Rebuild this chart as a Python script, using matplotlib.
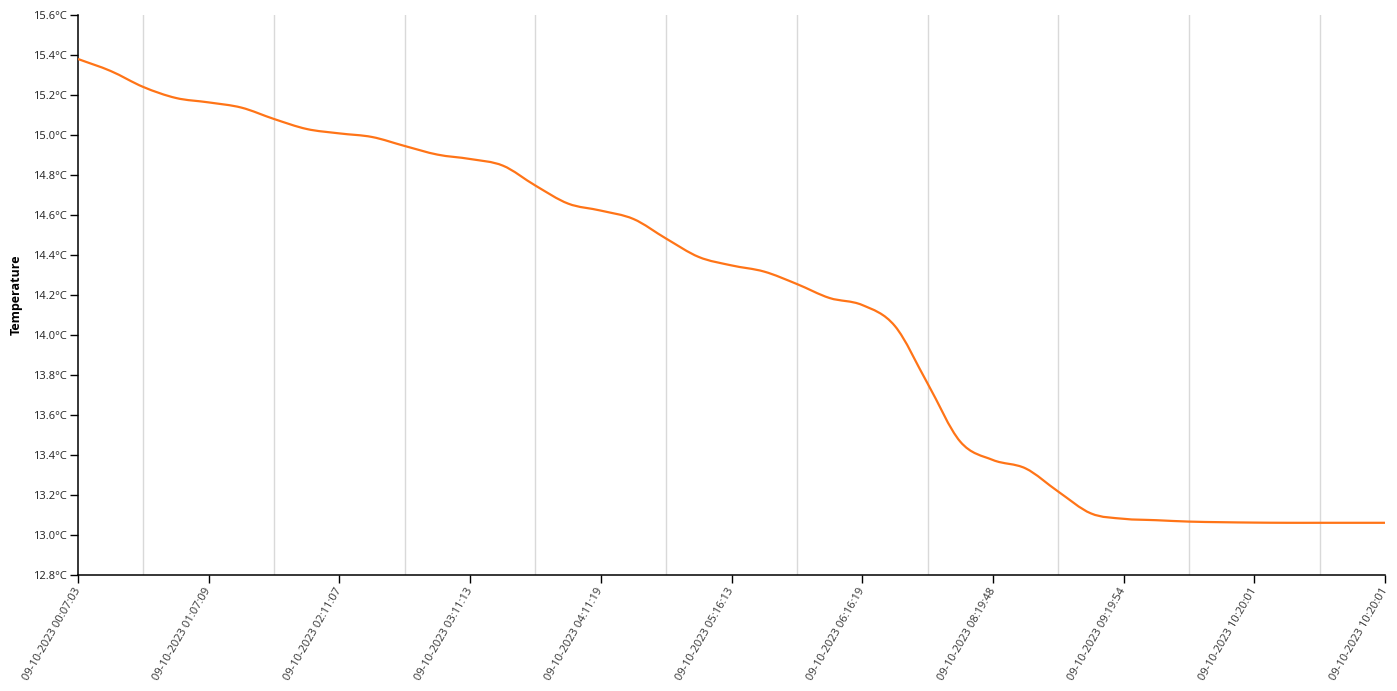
import numpy as np
import matplotlib
matplotlib.use("Agg")
import matplotlib.pyplot as plt
from matplotlib.path import Path
from matplotlib.patches import PathPatch

# tick labels (one per label position)
tick_labels = [
    "09-10-2023 00:07:03", "09-10-2023 01:07:09", "09-10-2023 02:11:07",
    "09-10-2023 03:11:13", "09-10-2023 04:11:19", "09-10-2023 05:16:13",
    "09-10-2023 06:16:19", "09-10-2023 08:19:48", "09-10-2023 09:19:54",
    "09-10-2023 10:20:01", "09-10-2023 10:20:01",
]

# temperature readings, four per label interval
temps = [
    15.38, 15.32, 15.24, 15.185,
    15.163, 15.137, 15.08, 15.03,
    15.008, 14.99, 14.945, 14.902,
    14.88, 14.847, 14.747, 14.657,
    14.622, 14.58, 14.482, 14.39,
    14.348, 14.317, 14.255, 14.185,
    14.15, 14.045, 13.758, 13.467,
    13.375, 13.333, 13.217, 13.108,
    13.081, 13.074, 13.067, 13.064,
    13.062, 13.061, 13.061, 13.061,
    13.061,
]
pos = np.arange(len(temps)) / 4.0


def smooth_path(x, y):
    # catmull-rom style cubic through the points, drawn as bezier segments
    x = np.asarray(x, float)
    y = np.asarray(y, float)
    m = np.gradient(y, x)
    verts = [(x[0], y[0])]
    codes = [Path.MOVETO]
    for i in range(len(x) - 1):
        d = (x[i + 1] - x[i]) / 3
        verts += [(x[i] + d, y[i] + d * m[i]), (x[i + 1] - d, y[i + 1] - d * m[i + 1]), (x[i + 1], y[i + 1])]
        codes += [Path.CURVE4] * 3
    return Path(verts, codes)


plt.rcParams['font.family'] = ['Open Sans', 'DejaVu Sans']

fig = plt.figure(figsize=(13.97, 6.91), dpi=100)
ax = fig.add_axes([78 / 1397, 1 - 575 / 691, (1385 - 78) / 1397, 560 / 691])

# vertical grid lines between label positions
for gx in np.arange(0.5, len(tick_labels) - 1, 1.0):
    ax.axvline(gx, color='#d9d9d9', lw=1, zorder=0)

ax.add_patch(PathPatch(smooth_path(pos, temps), fill=False, edgecolor='#ff7417', lw=1.6, zorder=3))

ax.set_xlim(0, len(tick_labels) - 1)
ax.set_ylim(12.8, 15.6)
ax.set_xticks(range(len(tick_labels)))
ax.set_xticklabels(tick_labels, rotation=60, ha='right', va='center', rotation_mode='anchor', fontsize=8, color='#333333')
yt = np.arange(12.8, 15.61, 0.2)
ax.set_yticks(yt)
ax.set_yticklabels([f"{v:.1f}°C" for v in yt], fontsize=8, color='#222222')
ax.tick_params(axis='both', length=6, width=1, color='black')
ax.tick_params(axis='x', pad=4)
ax.tick_params(axis='y', pad=2)

for side in ['top', 'right']:
    ax.spines[side].set_visible(False)
for side in ['left', 'bottom']:
    ax.spines[side].set_linewidth(1.1)
    ax.spines[side].set_color('black')

fig.text(16 / 1397, 1 - 295 / 691, "Temperature", rotation=90, ha='center', va='center', fontsize=9, fontweight='bold', color='black')

fig.savefig("out.png", dpi=100)
